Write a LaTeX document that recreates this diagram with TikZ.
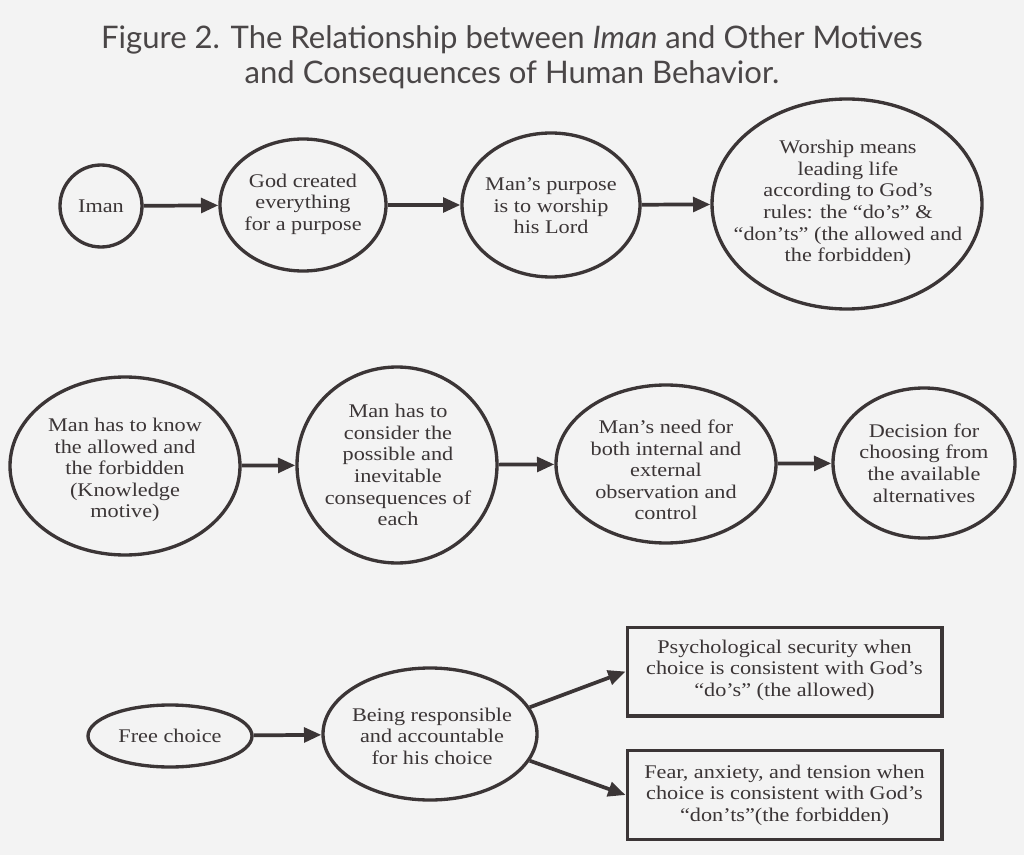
\documentclass[tikz,border=0pt]{standalone}
\usepackage{fontspec}
\setmainfont{Liberation Serif}[FakeStretch=1.15]
\newfontfamily\titlefont{Lato}
\usetikzlibrary{shapes.geometric,arrows.meta}
\definecolor{ink}{HTML}{3B3536}
\definecolor{titleink}{HTML}{4A4647}
\definecolor{bg}{HTML}{F3F3F3}
\begin{document}
\begin{tikzpicture}[x=0.75pt,y=-0.75pt,
  ell/.style 2 args={ellipse, draw=ink, line width=2.5pt, inner sep=0pt,
    minimum width=#1*1.5pt, minimum height=#2*1.5pt},
  txt/.style={align=center, text=ink, inner sep=0pt,
    font=\fontsize{14.5}{16.2}\selectfont},
  boxnode/.style={rectangle, draw=ink, line width=2.5pt, inner sep=0pt,
    minimum width=236pt, minimum height=66.5pt},
  arr/.style={draw=ink, line width=2.8pt, -{Triangle[length=13pt,width=11pt]}}]
\fill[bg] (0,0) rectangle (1024,855);
\useasboundingbox (0,0) rectangle (1024,855);

% title
\node[align=center, text=titleink, font=\titlefont\fontsize{23.3}{26.25}\selectfont] (title) at (512,57)
  {Figure 2. The Relationship between \textit{Iman} and Other Motives\\and Consequences of Human Behavior.};

% row 1
\node[ell={41}{41}] (iman) at (101,206) {};
\node[txt] (timan) at (iman) {Iman};
\node[ell={83}{66}] (god) at (303,205) {};
\node[txt] (tgod) at (303,204) {God created\\everything\\for a purpose};
\node[ell={89}{72}] (purpose) at (551,205) {};
\node[txt] (tpurpose) at (551,206) {Man’s purpose\\is to worship\\his Lord};
\node[ell={135}{105}] (worship) at (847,204) {};
\node[txt] (tworship) at (848,203) {Worship means\\leading life\\according to God’s\\rules: the “do’s” \&\\“don’ts” (the allowed and\\the forbidden)};

\draw[arr] (iman) -- (god);
\draw[arr] (god) -- (purpose);
\draw[arr] (purpose) -- (worship);

% row 2
\node[ell={115}{89}] (know) at (125,466) {};
\node[txt] (tknow) at (125,470) {Man has to know\\the allowed and\\the forbidden\\(Knowledge\\motive)};
\node[ell={100}{98}] (consider) at (397,465) {};
\node[txt] (tconsider) at (398,465) {Man has to\\consider the\\possible and\\inevitable\\consequences of\\each};
\node[ell={110}{79}] (need) at (666,464) {};
\node[txt] (tneed) at (666,470) {Man’s need for\\both internal and\\external\\observation and\\control};
\node[ell={91}{75}] (decision) at (924,463) {};
\node[txt] (tdecision) at (924,463) {Decision for\\choosing from\\the available\\alternatives};

\draw[arr] (know) -- (consider);
\draw[arr] (consider) -- (need);
\draw[arr] (need) -- (decision);

% row 3
\node[ell={82}{31}] (free) at (170,736) {};
\node[txt] (tfree) at (free) {Free choice};
\node[ell={107}{66}] (being) at (430,734) {};
\node[txt] (tbeing) at (432,736) {Being responsible\\and accountable\\for his choice};
\node[boxnode] (secure) at (784.5,671.5) {};
\node[txt] (tsecure) at (784.5,670) {Psychological security when\\choice is consistent with God’s\\“do’s” (the allowed)};
\node[boxnode] (fear) at (784.5,795) {};
\node[txt] (tfear) at (784.5,795) {Fear, anxiety, and tension when\\choice is consistent with God’s\\“don’ts”(the forbidden)};

\draw[arr] (free) -- (being);
\draw[arr] (being.15) -- (secure.west);
\draw[arr] (being.-15) -- (fear.west);
\end{tikzpicture}
\end{document}
